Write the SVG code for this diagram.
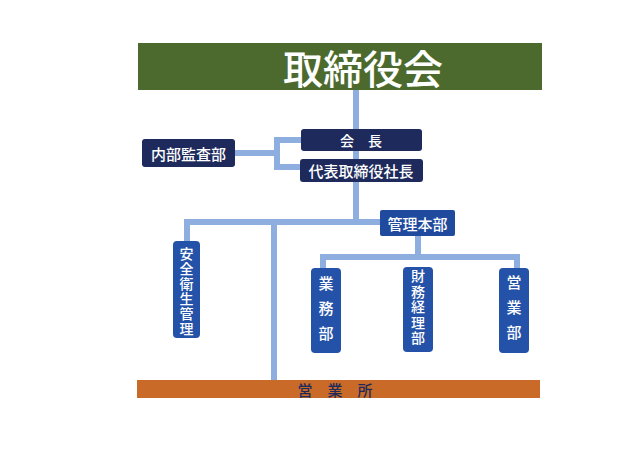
<svg xmlns="http://www.w3.org/2000/svg" width="640" height="453" viewBox="0 0 640 453">
<style>
.conn{stroke:#8eaee0;stroke-width:6;fill:none}
.navy{fill:#1e2a5c}
.blue{fill:#2452a8}
.t{font-family:"Noto Sans CJK JP","Noto Sans CJK SC",sans-serif;fill:#ffffff;text-anchor:middle;dominant-baseline:central;font-weight:500}
.v{font-family:"Noto Sans CJK JP","Noto Sans CJK SC",sans-serif;fill:#ffffff;writing-mode:vertical-rl;text-anchor:start;font-weight:500}
</style>
<rect width="640" height="453" fill="#ffffff"/>
<g id="connectors">
<path class="conn" d="M356 90V222"/>
<path class="conn" d="M235 153H277M277 138V168M274 140H301M274 167H301"/>
<path class="conn" d="M187 222H382M187 219V242M274 222V380"/>
<path class="conn" d="M418 236V257M323 257H520M323 254V268M517 254V268"/>
</g>
<g id="board">
<rect x="138" y="43" width="404" height="47" fill="#4d6a2e"/>
<text class="t" x="363" y="67" font-size="40">取締役会</text>
</g>
<g id="chairman">
<rect class="navy" x="301" y="129" width="121" height="22" rx="3"/>
<text class="t" x="361" y="140" font-size="14">会　長</text>
</g>
<g id="president">
<rect class="navy" x="300" y="159" width="123" height="23" rx="3"/>
<text class="t" x="361" y="170.5" font-size="15">代表取締役社長</text>
</g>
<g id="audit">
<rect class="navy" x="142" y="139" width="93" height="28" rx="3"/>
<text class="t" x="188.5" y="153" font-size="15">内部監査部</text>
</g>
<g id="admin">
<rect x="380" y="210" width="75" height="26" rx="2" fill="#1f4a9e"/>
<text class="t" x="417.5" y="223" font-size="15">管理本部</text>
</g>
<g id="safety">
<rect class="blue" x="173" y="241" width="27" height="97" rx="4"/>
<text class="v" x="186.5" y="247" font-size="14" letter-spacing="1">安全衛生管理</text>
</g>
<g id="gyomu">
<rect class="blue" x="311" y="268" width="30" height="85" rx="4"/>
<text class="v" x="326" y="275.5" font-size="15" letter-spacing="10">業務部</text>
</g>
<g id="finance">
<rect class="blue" x="403" y="267" width="30" height="85" rx="4"/>
<text class="v" x="418" y="269" font-size="14" letter-spacing="1.5">財務経理部</text>
</g>
<g id="sales">
<rect class="blue" x="499" y="268" width="30" height="85" rx="4"/>
<text class="v" x="514" y="274.5" font-size="15" letter-spacing="10">営業部</text>
</g>
<g id="office">
<rect x="137" y="380" width="403" height="18" fill="#c96a28"/>
<text class="t" x="335" y="389" font-size="15" font-weight="bold" style="fill:#1e2a5c">営　業　所</text>
</g>
</svg>
